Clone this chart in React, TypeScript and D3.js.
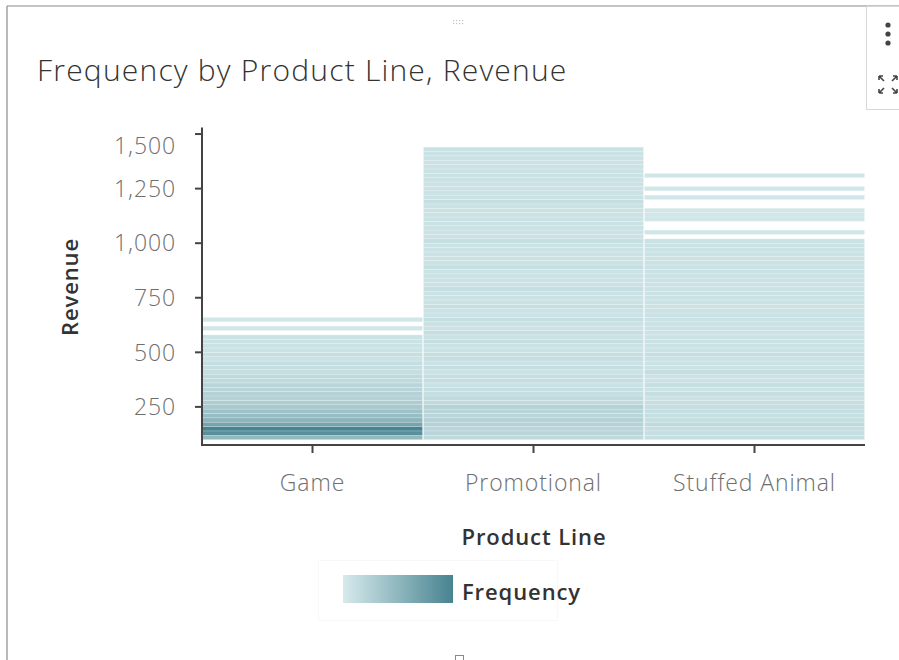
import React from "react";
import * as d3 from "d3";

// ---- data ----
const productLines = ["Game", "Promotional", "Stuffed Animal"];
const revenueTicks = [250, 500, 750, 1000, 1250, 1500];
const binStep = 20;
const firstBin = 100;
// frequency per revenue bin (bins start at 100, width 20); 0 = empty bin
const gameFrequency = [
  12, 22, 25, 17, 13, 11, 10, 8, 7, 6,
  6, 5, 5, 4, 4, 3, 3, 3, 2, 3,
  2, 2, 2, 2, 0, 1, 0, 1,
];
const promotionalFrequency = [
  4, 5, 5, 6, 6, 5, 5, 6, 4, 4,
  3, 3, 2, 3, 3, 2, 3, 2, 3, 3,
  2, 2, 3, 2, 3, 2, 2, 3, 2, 2,
  3, 2, 2, 2, 3, 2, 2, 2, 2, 3,
  2, 2, 2, 2, 2, 3, 2, 2, 2, 2,
  2, 2, 2, 2, 3, 2, 2, 2, 2, 2,
  2, 2, 2, 2, 2, 2, 2,
];
const stuffedAnimalFrequency = [
  3, 3, 3, 4, 3, 3, 3, 3, 3, 2,
  3, 2, 3, 2, 2, 3, 2, 2, 2, 3,
  2, 2, 2, 2, 2, 2, 2, 2, 2, 2,
  2, 2, 2, 2, 2, 2, 2, 2, 2, 2,
  2, 2, 2, 2, 2, 2, 0, 1, 0, 0,
  1, 1, 1, 0, 0, 1, 0, 1, 0, 0,
  1,
];
const frequencySeries = [gameFrequency, promotionalFrequency, stuffedAnimalFrequency];

const FONT = "'Open Sans', sans-serif";

export default function App() {
  const W = 899, H = 660;
  const x = d3.scaleBand<string>().domain(productLines).range([202, 865]).padding(0);
  const y = d3.scaleLinear().domain([80, 1530]).range([444, 127.5]);
  const maxF = 25;
  const color = d3.scaleLinear<string>().domain([0, maxF]).range(["#d6eaec", "#478390"]).interpolate(d3.interpolateRgb);

  const cells = productLines.flatMap((pl, i) =>
    frequencySeries[i]
      .map((f, j) => ({ pl, lo: firstBin + j * binStep, f }))
      .filter((c) => c.f > 0)
  );

  const fmt = d3.format(",");
  const axisColor = "#444";

  return (
    <svg width={W} height={H} style={{ position: "absolute", left: 0, top: 0, background: "#fff" }} fontFamily={FONT}>
      <defs>
        <linearGradient id="legGrad" x1="0" x2="1" y1="0" y2="0">
          <stop offset="0%" stopColor={color(0)} />
          <stop offset="100%" stopColor={color(maxF)} />
        </linearGradient>
      </defs>
      {/* panel border */}
      <line x1={7} x2={7} y1={6} y2={H} stroke="#8a8a8a" strokeWidth={1.2} />
      <line x1={7} x2={W} y1={6} y2={6} stroke="#8a8a8a" strokeWidth={1.2} />
      {/* icon box */}
      <rect x={866.5} y={6.5} width={40} height={103} fill="#fff" stroke="#d8d8d8" />
      {[25, 34, 43].map((cy) => (
        <circle key={cy} cx={888} cy={cy} r={2.6} fill="#444" />
      ))}
      <g stroke="#444" strokeWidth={1.6} fill="none">
        <path d="M879,76 l5,5 M879,76 h4 M879,76 v4" />
        <path d="M897,76 l-5,5 M897,76 h-4 M897,76 v4" />
        <path d="M879,93 l5,-5 M879,93 h4 M879,93 v-4" />
        <path d="M897,93 l-5,-5 M897,93 h-4 M897,93 v-4" />
      </g>
      {/* drag handle */}
      {[0, 1, 2, 3].map((i) =>
        [0, 1].map((j) => (
          <rect key={`${i}-${j}`} x={453 + i * 3} y={20 + j * 3} width={1.2} height={1.2} fill="#c4c4c4" />
        ))
      )}
      <rect x={455.5} y={655.5} width={8} height={8} fill="none" stroke="#888" />

      {/* title */}
      <text x={37} y={81} fontSize={30} fontWeight={300} fill="#333" letterSpacing={1.2}>
        Frequency by Product Line, Revenue
      </text>

      {/* cells */}
      <g>
        {cells.map((c, i) => (
          <rect
            key={i}
            x={(x(c.pl) as number) + 0.5}
            width={x.bandwidth() - 1}
            y={y(c.lo + binStep)}
            height={y(c.lo) - y(c.lo + binStep)}
            fill={color(c.f)}
            stroke="#ffffff"
            strokeOpacity={0.3}
            strokeWidth={0.6}
          />
        ))}
      </g>

      {/* y axis */}
      <line x1={202} x2={202} y1={127.5} y2={445} stroke={axisColor} strokeWidth={2} />
      {revenueTicks.map((t) => (
        <g key={t}>
          <line x1={195} x2={202} y1={y(t)} y2={y(t)} stroke={axisColor} strokeWidth={2} />
          <text
            x={176}
            y={Math.max(y(t), 146)}
            dy="0.36em"
            textAnchor="end"
            fontSize={23}
            fontWeight={300}
            fill="#6e6e6e"
            letterSpacing={0.9}
          >
            {fmt(t)}
          </text>
        </g>
      ))}
      {/* x axis */}
      <line x1={201} x2={865} y1={445} y2={445} stroke={axisColor} strokeWidth={2} />
      {productLines.map((pl) => {
        const cx = (x(pl) as number) + x.bandwidth() / 2;
        return (
          <g key={pl}>
            <line x1={cx} x2={cx} y1={445} y2={453} stroke={axisColor} strokeWidth={2} />
            <text x={cx} y={491} textAnchor="middle" fontSize={23} fontWeight={300} fill="#6e6e6e" letterSpacing={0.9}>
              {pl}
            </text>
          </g>
        );
      })}

      {/* axis titles */}
      <text x={534} y={545} textAnchor="middle" fontSize={22} fontWeight={600} fill="#333" letterSpacing={0.9}>
        Product Line
      </text>
      <text
        transform="translate(78,287) rotate(-90)"
        textAnchor="middle"
        fontSize={22}
        fontWeight={600}
        fill="#333"
        letterSpacing={0.9}
      >
        Revenue
      </text>

      {/* legend */}
      <rect x={318.5} y={560.5} width={239} height={60} fill="none" stroke="#f8f8f8" />
      <rect x={343} y={575} width={110} height={28} fill="url(#legGrad)" />
      <text x={462} y={600} fontSize={22} fontWeight={600} fill="#333" letterSpacing={0.9}>
        Frequency
      </text>
    </svg>
  );
}
